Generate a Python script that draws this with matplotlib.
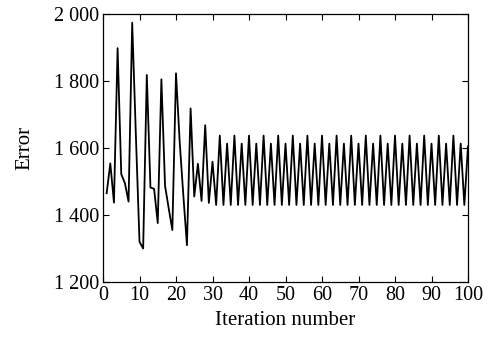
import matplotlib
matplotlib.use("Agg")
import matplotlib.pyplot as plt
from matplotlib.ticker import FuncFormatter, MultipleLocator

plt.rcParams['font.family'] = ['Liberation Serif', 'DejaVu Serif']
plt.rcParams['mathtext.fontset'] = 'stix'

iterations = list(range(1, 101))
early_errors = [1465, 1554, 1437, 1898, 1522, 1495, 1440, 1974, 1640, 1320,
                1300, 1818, 1482, 1478, 1376, 1805, 1487, 1420, 1355, 1823,
                1620, 1460, 1310, 1718, 1455, 1553, 1442, 1668, 1436, 1559]
late_errors = [1430, 1637, 1430, 1613, 1430, 1637, 1430, 1613, 1430, 1637,
               1430, 1613, 1430, 1637, 1430, 1613, 1430, 1637, 1430, 1613,
               1430, 1637, 1430, 1613, 1430, 1637, 1430, 1613, 1430, 1637,
               1430, 1613, 1430, 1637, 1430, 1613, 1430, 1637, 1430, 1613,
               1430, 1637, 1430, 1613, 1430, 1637, 1430, 1613, 1430, 1637,
               1430, 1613, 1430, 1637, 1430, 1613, 1430, 1637, 1430, 1613,
               1430, 1637, 1430, 1613, 1430, 1637, 1430, 1613, 1430, 1605]
errors = early_errors + late_errors

x_ticks = [0, 10, 20, 30, 40, 50, 60, 70, 80, 90, 100]
y_ticks = [1200, 1400, 1600, 1800, 2000]

fig = plt.figure(figsize=(4.98, 3.39), dpi=100)
ax = fig.add_axes([103/498, 1 - 282/339, (468-103)/498, (282-14)/339])
ax.plot(iterations, errors, color='black', lw=1.3)

ax.set_xlim(0, 100)
ax.set_ylim(1200, 2000)
ax.set_xticks(x_ticks)
ax.set_yticks(y_ticks)
ax.yaxis.set_major_formatter(FuncFormatter(lambda v, p: f"{int(v):,}".replace(",", " ")))
ax.tick_params(direction='in', top=True, right=True, length=4, width=0.8,
               labelsize=14.5, colors='black', pad=3)
for s in ax.spines.values():
    s.set_linewidth(0.9)
    s.set_color('black')

ax.set_xlabel('Iteration number', fontsize=15, labelpad=4)
ax.set_ylabel('Error', fontsize=15, labelpad=14)

fig.savefig('out.png', dpi=100)
